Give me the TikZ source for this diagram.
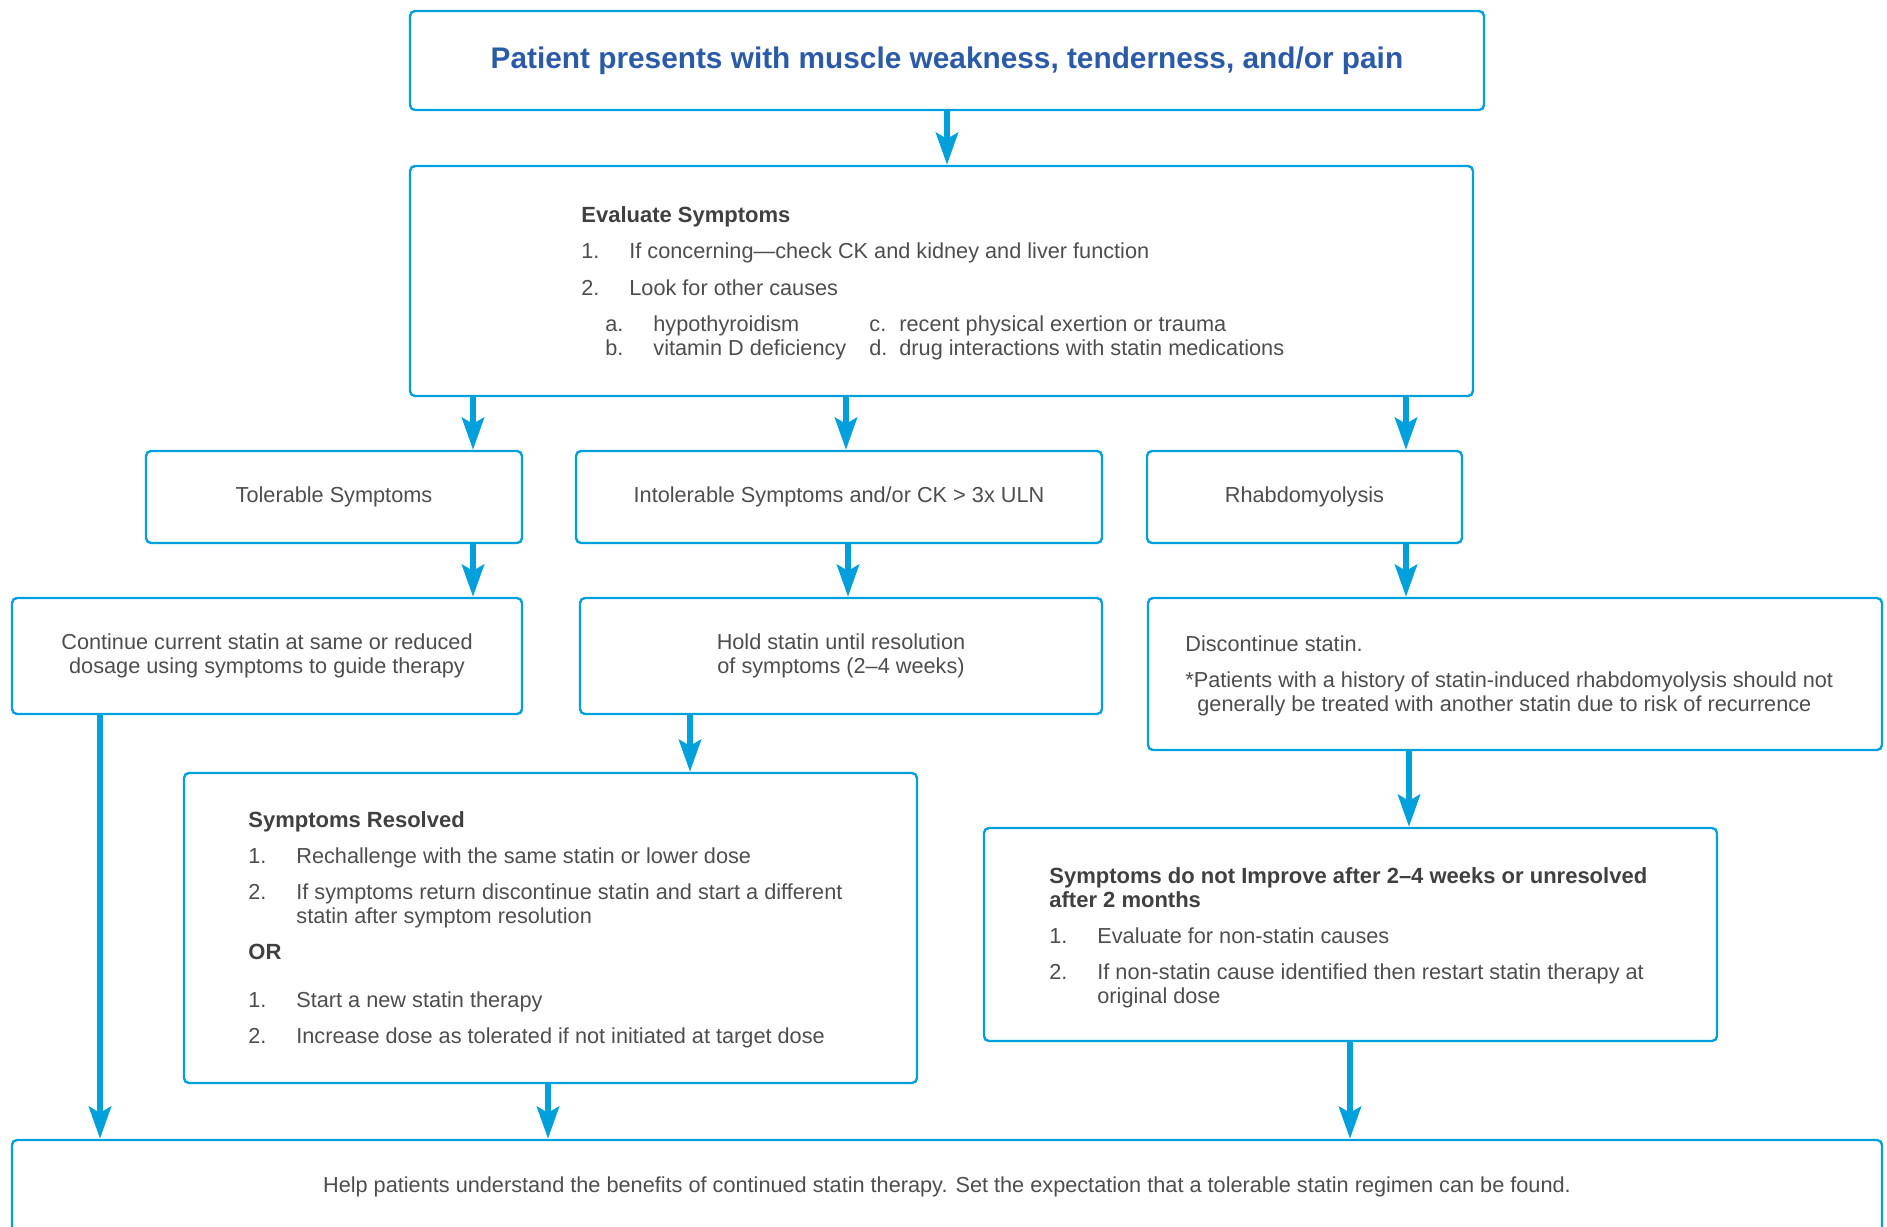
\documentclass[tikz,border=0pt]{standalone}
\usepackage{fontspec}
\setmainfont{Liberation Sans}
\usetikzlibrary{arrows.meta}
\definecolor{boxc}{HTML}{00A0DD}
\definecolor{txt}{HTML}{4D4D4D}
\definecolor{hdr}{HTML}{404040}
\definecolor{ttl}{HTML}{2B5BA8}
\tikzset{
  box/.style={draw=boxc, line width=1.2pt, rounded corners=2.5pt, inner sep=0pt, align=center, text=txt, font=\fontsize{10.85}{12}\selectfont},
  tx/.style={anchor=base west, inner sep=0pt, text=txt, font=\fontsize{10.85}{12}\selectfont, align=left},
  hd/.style={anchor=base west, inner sep=0pt, text=hdr, font=\fontsize{11}{12}\selectfont\bfseries, align=left},
  arr/.style={draw=boxc, line width=3pt, -{Stealth[length=16pt, width=11pt, inset=3pt]}}
}
\begin{document}
\begin{tikzpicture}[x=0.5pt, y=-0.5pt]
\path[use as bounding box] (0,0) rectangle (1887,1227);
\clip (0,0) rectangle (1887,1227);
% boxes
\node[box, minimum width=1074*0.5pt, minimum height=99*0.5pt, text=ttl, font=\fontsize{14.9}{17}\selectfont\bfseries] (title) at (947,60.5) {Patient presents with muscle weakness, tenderness, and/or pain};
\node[box, minimum width=1063*0.5pt, minimum height=230*0.5pt] (eval) at (941.5,281) {};
\node[box, minimum width=376*0.5pt, minimum height=92*0.5pt] (tol) at (334,497) {Tolerable Symptoms};
\node[box, minimum width=526*0.5pt, minimum height=92*0.5pt] (intol) at (839,497) {Intolerable Symptoms and/or CK > 3x ULN};
\node[box, minimum width=315*0.5pt, minimum height=92*0.5pt] (rhab) at (1304.5,497) {Rhabdomyolysis};
\node[box, minimum width=510*0.5pt, minimum height=116*0.5pt] (cont) at (267,656) {Continue current statin at same or reduced\\dosage using symptoms to guide therapy};
\node[box, minimum width=522*0.5pt, minimum height=116*0.5pt] (hold) at (841,656) {Hold statin until resolution\\of symptoms (2--4 weeks)};
\node[box, minimum width=734*0.5pt, minimum height=152*0.5pt] (disc) at (1515,674) {};
\node[box, minimum width=733*0.5pt, minimum height=310*0.5pt] (sr) at (550.5,928) {};
\node[box, minimum width=733*0.5pt, minimum height=213*0.5pt] (sni) at (1350.5,934.5) {};
\node[box, minimum width=1870*0.5pt, minimum height=140*0.5pt] (bot) at (947,1210) {};
% evaluate text
\node[hd] (evh) at (581,222) {Evaluate Symptoms};
\node[tx] (ev1n) at (581,258) {1.};
\node[tx] (ev1) at (629,258) {If concerning---check CK and kidney and liver function};
\node[tx] (ev2n) at (581,295) {2.};
\node[tx] (ev2) at (629,295) {Look for other causes};
\node[tx] (evan) at (605,331) {a.};
\node[tx] (eva) at (653,331) {hypothyroidism};
\node[tx] (evbn) at (605,355) {b.};
\node[tx] (evb) at (653,355) {vitamin D deficiency};
\node[tx] (evcn) at (869,331) {c.};
\node[tx] (evc) at (899,331) {recent physical exertion or trauma};
\node[tx] (evdn) at (869,355) {d.};
\node[tx] (evd) at (899,355) {drug interactions with statin medications};
% discontinue text
\node[tx] (d1) at (1185,651) {Discontinue statin.};
\node[tx] (d2) at (1185,687) {*Patients with a history of statin-induced rhabdomyolysis should not};
\node[tx] (d3) at (1197,711) {generally be treated with another statin due to risk of recurrence};
% symptoms resolved
\node[hd] (srh) at (248,827) {Symptoms Resolved};
\node[tx] (sr1n) at (248,863) {1.};
\node[tx] (sr1) at (296,863) {Rechallenge with the same statin or lower dose};
\node[tx] (sr2n) at (248,899) {2.};
\node[tx] (sr2) at (296,923) {If symptoms return discontinue statin and start a different\\statin after symptom resolution};
\node[hd] (sror) at (248,959) {OR};
\node[tx] (sr3n) at (248,1007) {1.};
\node[tx] (sr3) at (296,1007) {Start a new statin therapy};
\node[tx] (sr4n) at (248,1043) {2.};
\node[tx] (sr4) at (296,1043) {Increase dose as tolerated if not initiated at target dose};
% symptoms not improve
\node[hd] (snih) at (1049,907) {Symptoms do not Improve after 2--4 weeks or unresolved\\after 2 months};
\node[tx] (sni1n) at (1049,943) {1.};
\node[tx] (sni1) at (1097,943) {Evaluate for non-statin causes};
\node[tx] (sni2n) at (1049,979) {2.};
\node[tx] (sni2) at (1097,1003) {If non-statin cause identified then restart statin therapy at\\original dose};
% bottom text
\node[tx, anchor=base] (bt) at (947,1192) {Help patients understand the benefits of continued statin therapy. Set the expectation that a tolerable statin regimen can be found.};
% column coordinates
\coordinate (x947) at (947,0);
\coordinate (x473) at (473,0);
\coordinate (x846) at (846,0);
\coordinate (x848) at (848,0);
\coordinate (x1406) at (1406,0);
\coordinate (x100) at (100,0);
\coordinate (x690) at (690,0);
\coordinate (x1409) at (1409,0);
\coordinate (x548) at (548,0);
\coordinate (x1350) at (1350,0);
% arrows
\draw[arr] (title.south -| x947) -- (eval.north -| x947);
\draw[arr] (eval.south -| x473) -- (tol.north -| x473);
\draw[arr] (eval.south -| x846) -- (intol.north -| x846);
\draw[arr] (eval.south -| x1406) -- (rhab.north -| x1406);
\draw[arr] (tol.south -| x473) -- (cont.north -| x473);
\draw[arr] (intol.south -| x848) -- (hold.north -| x848);
\draw[arr] (rhab.south -| x1406) -- (disc.north -| x1406);
\draw[arr] (cont.south -| x100) -- (bot.north -| x100);
\draw[arr] (hold.south -| x690) -- (sr.north -| x690);
\draw[arr] (disc.south -| x1409) -- (sni.north -| x1409);
\draw[arr] (sr.south -| x548) -- (bot.north -| x548);
\draw[arr] (sni.south -| x1350) -- (bot.north -| x1350);
\end{tikzpicture}
\end{document}
